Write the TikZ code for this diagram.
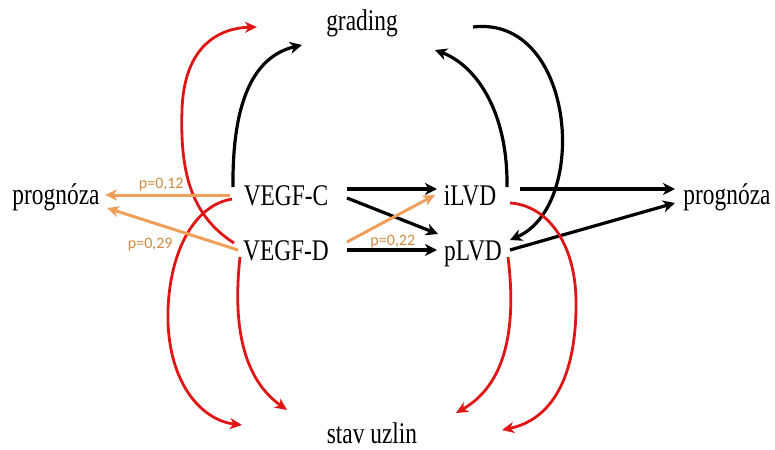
\documentclass[tikz,border=0pt]{standalone}
\usepackage{fontspec}
\setmainfont[FakeStretch=0.78]{Liberation Serif}
\newfontfamily\lblfont{Carlito}
\usetikzlibrary{arrows.meta}
\definecolor{myred}{RGB}{222,22,22}
\definecolor{myorange}{RGB}{238,160,90}
\definecolor{mylabel}{RGB}{205,140,70}
\begin{document}
\begin{tikzpicture}[x=1pt,y=-1pt,
  lbl/.style={font=\fontsize{30}{32}\selectfont, anchor=base, inner sep=0pt},
  plbl/.style={font=\lblfont\fontsize{16}{18}\selectfont, text=mylabel, inner sep=1pt},
  blk/.style={draw=black, line width=3.2pt, -{Stealth[length=12pt,width=12pt,inset=3.5pt]}},
  redarr/.style={draw=myred, line width=2.8pt, -{Stealth[length=12pt,width=11pt,inset=3.5pt]}},
  ora/.style={draw=myorange, line width=3pt, -{Stealth[length=12pt,width=11pt,inset=3.5pt]}}
]
\fill[white] (0,0) rectangle (775,449);
\useasboundingbox (0,0) rectangle (775,449);

% nodes
\node[lbl] (gr) at (362,31) {grading};
\node[lbl] (su) at (372,443) {stav uzlin};
\node[lbl] (pL) at (56,204) {prognóza};
\node[lbl] (pR) at (727,204) {prognóza};
\node[lbl] (vc) at (286,205) {VEGF-C};
\node[lbl] (vd) at (286,260) {VEGF-D};
\node[lbl] (il) at (470,205) {iLVD};
\node[lbl] (pl) at (473,260) {pLVD};

% black straight arrows
\draw[blk] ([shift={(61,-16)}]vc.base) -- ([shift={(-33,-16)}]il.base);
\draw[blk] ([shift={(61,-7)}]vc.base) -- ([shift={(-35,-26)}]pl.base);
\draw[blk] ([shift={(61,-10)}]vd.base) -- ([shift={(-36,-10)}]pl.base);
\draw[blk] ([shift={(50,-16)}]il.base) -- ([shift={(-52,-15)}]pR.base);
\draw[blk] ([shift={(37,-10)}]pl.base) -- ([shift={(-52,-1)}]pR.base);

% black curves
\draw[blk] ([shift={(-53,-18)}]vc.base) .. controls (232,90) and (260,55) .. ([shift={(-60,14)}]gr.base);
\draw[blk] ([shift={(37,-18)}]il.base) .. controls (508,110) and (475,65) .. ([shift={(73,19)}]gr.base);
\draw[blk] ([shift={(111,-4)}]gr.base) .. controls (575,15) and (590,205) .. ([shift={(37,-20)}]pl.base);

% red curves
\draw[redarr] ([shift={(-52,-17)}]vd.base) .. controls (190,215) and (180,170) .. (182,110)
   .. controls (184,45) and (220,28) .. ([shift={(-105,-4)}]gr.base);
\draw[redarr] ([shift={(-54,-6)}]vc.base) .. controls (195,205) and (170,250) .. (168,310)
   .. controls (166,380) and (200,420) .. ([shift={(-130,-18)}]su.base);
\draw[redarr] ([shift={(-46,-3)}]vd.base) .. controls (232,330) and (245,380) .. ([shift={(-85,-33)}]su.base);
\draw[redarr] ([shift={(35,-3)}]pl.base) .. controls (517,330) and (505,385) .. ([shift={(84,-30)}]su.base);
\draw[redarr] ([shift={(40,-2)}]il.base) .. controls (545,205) and (575,240) .. (576,300)
   .. controls (577,380) and (550,420) .. ([shift={(130,-13)}]su.base);

% orange arrows with labels
\draw[ora] ([shift={(-56,-10)}]vc.base) -- ([shift={(49,-9)}]pL.base)
   node[plbl, pos=0.55, above=1pt] {p=0,12};
\draw[ora] ([shift={(-48,-10)}]vd.base) -- ([shift={(51,4)}]pL.base)
   node[plbl, pos=0.67, below=14pt] {p=0,29};
\draw[ora] ([shift={(61,-18)}]vd.base) -- ([shift={(-35,-10)}]il.base)
   node[plbl, pos=0.52, below=15pt] {p=0,22};
\end{tikzpicture}
\end{document}
